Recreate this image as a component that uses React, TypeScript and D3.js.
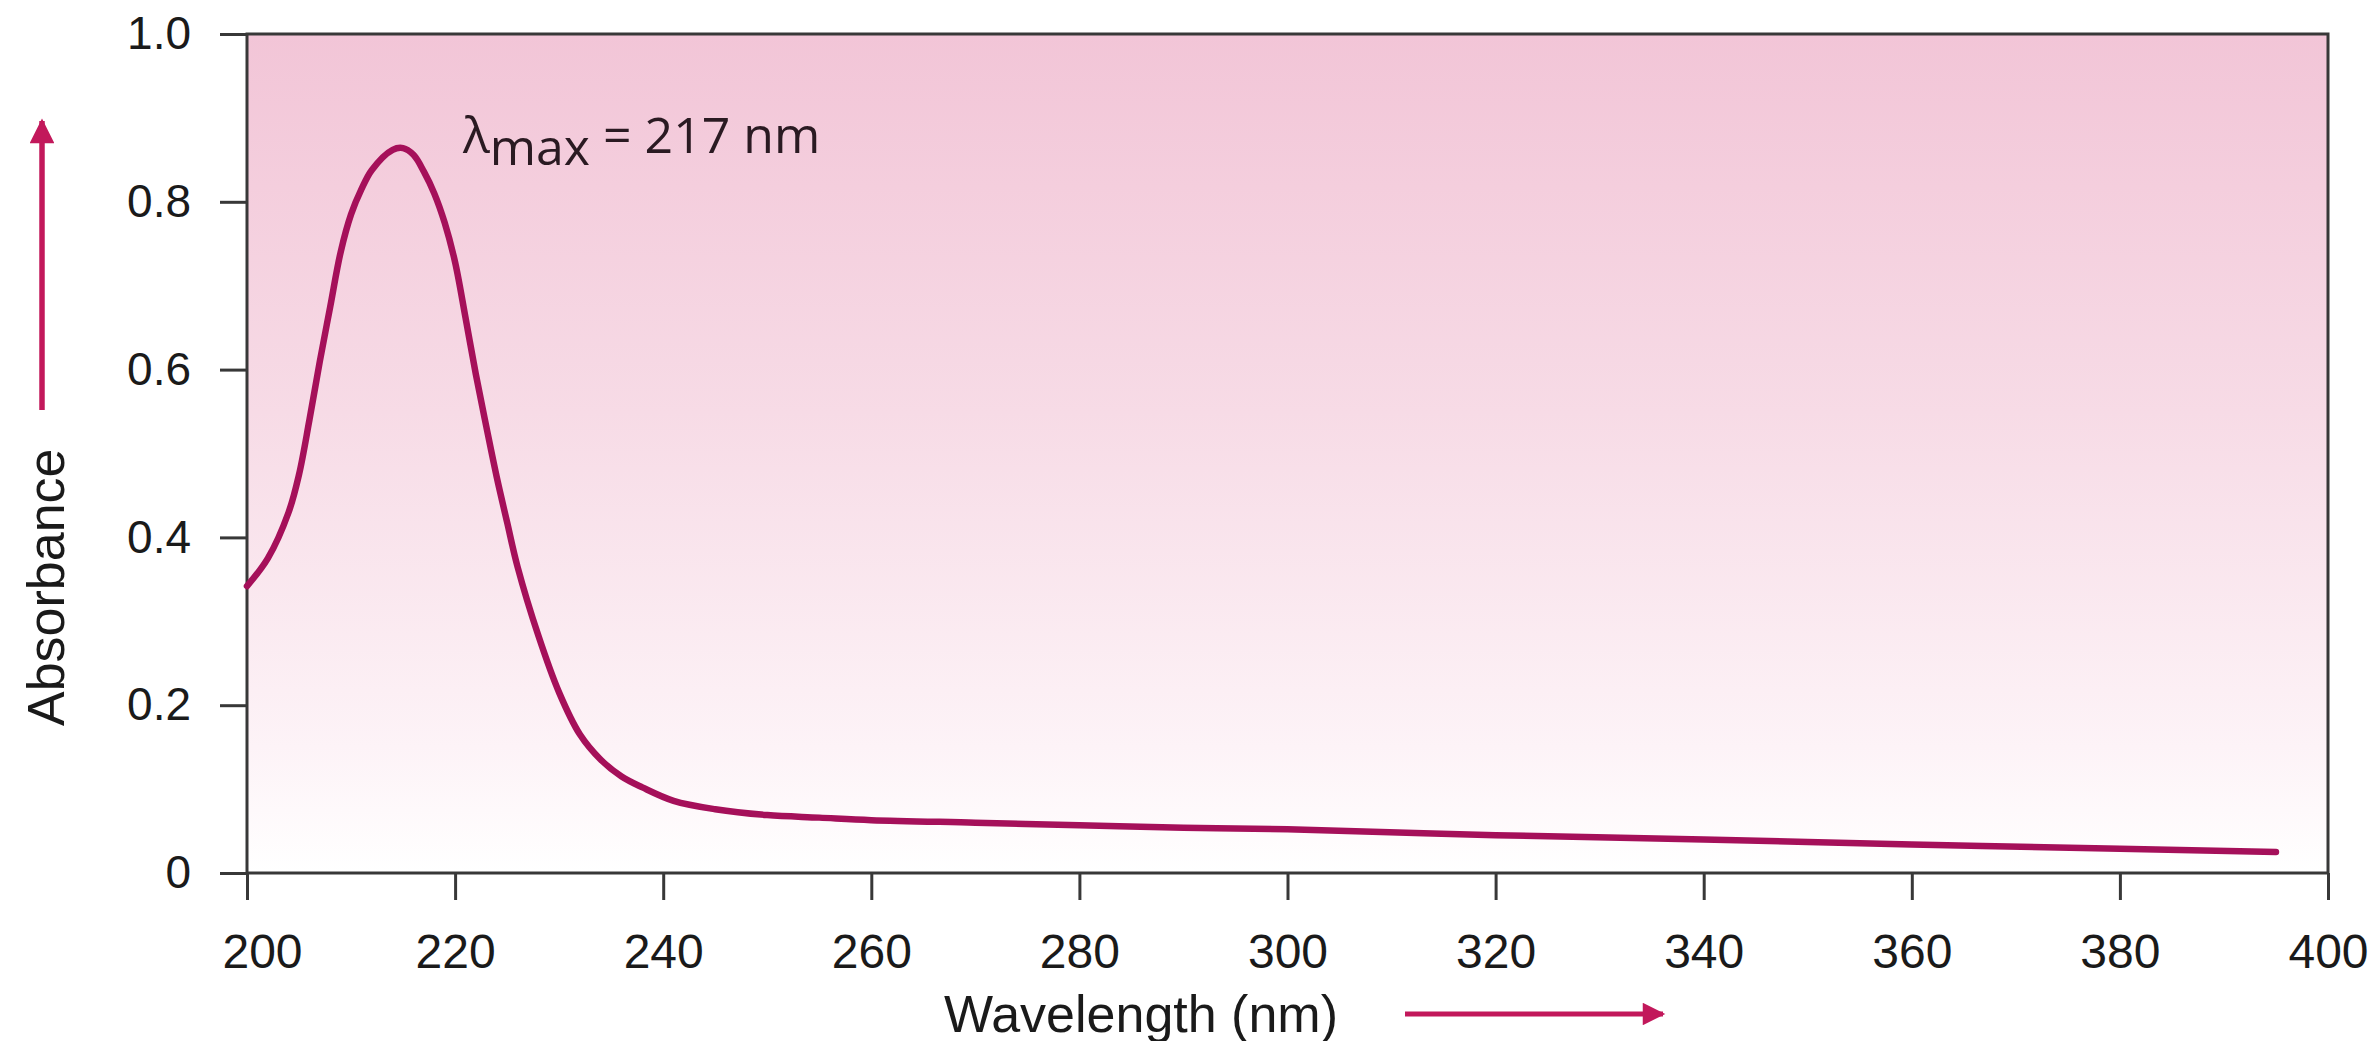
import React, { useEffect, useRef } from 'react';
import * as d3 from 'd3';

// spectrum
const wavelengths = [200, 202, 204, 205, 206, 207, 208, 209, 210, 211, 212, 214, 215, 216, 217, 218, 219, 220, 221, 222, 223, 224, 225, 226, 228, 230, 232, 234, 236, 238, 241, 245, 250, 255, 260, 270, 280, 290, 300, 320, 340, 360, 380, 395];
const absorbance = [0.342, 0.375, 0.43, 0.475, 0.54, 0.61, 0.675, 0.74, 0.785, 0.815, 0.838, 0.862, 0.864, 0.856, 0.836, 0.81, 0.775, 0.728, 0.662, 0.594, 0.532, 0.472, 0.418, 0.365, 0.283, 0.215, 0.165, 0.135, 0.115, 0.102, 0.086, 0.076, 0.069, 0.066, 0.063, 0.06, 0.057, 0.054, 0.052, 0.045, 0.04, 0.034, 0.029, 0.025];

const xTicks = [200, 220, 240, 260, 280, 300, 320, 340, 360, 380, 400];
const yTicks = [0, 0.2, 0.4, 0.6, 0.8, 1.0];

const lambdaMax = 217;

const App = () => {
  const svgRef = useRef<SVGSVGElement>(null);

  useEffect(() => {
    const width = 2380;
    const height = 1041;
    const left = 247, right = 2328, top = 34, bottom = 873;
    const magenta = '#c2185b';
    const curveColor = '#a5105a';
    const axisColor = '#383838';
    const sans = '"Liberation Sans", Arial, sans-serif';

    const svg = d3.select(svgRef.current);
    svg.selectAll('*').remove();
    svg.attr('width', width).attr('height', height);

    const x = d3.scaleLinear().domain([200, 400]).range([left, right]);
    const y = d3.scaleLinear().domain([0, 1]).range([bottom, top]);

    // fond dégradé rose -> blanc
    const defs = svg.append('defs');
    const grad = defs.append('linearGradient')
      .attr('id', 'bg')
      .attr('x1', 0).attr('y1', 0).attr('x2', 0).attr('y2', 1);
    grad.append('stop').attr('offset', '0%').attr('stop-color', '#f2c5d7');
    grad.append('stop').attr('offset', '45%').attr('stop-color', '#f7dbe6');
    grad.append('stop').attr('offset', '85%').attr('stop-color', '#fdf3f7');
    grad.append('stop').attr('offset', '100%').attr('stop-color', '#ffffff');

    const marker = defs.append('marker')
      .attr('id', 'head')
      .attr('viewBox', '0 0 10 10')
      .attr('refX', 9).attr('refY', 5)
      .attr('markerWidth', 6).attr('markerHeight', 4.5)
      .attr('markerUnits', 'strokeWidth')
      .attr('orient', 'auto');
    marker.append('path').attr('d', 'M0,0 L10,5 L0,10 Z').attr('fill', magenta);

    svg.append('rect')
      .attr('x', left).attr('y', top)
      .attr('width', right - left).attr('height', bottom - top)
      .attr('fill', 'url(#bg)');

    // axes
    const xAxis = d3.axisBottom(x)
      .tickValues(xTicks)
      .tickSizeInner(27)
      .tickSizeOuter(0)
      .tickPadding(34)
      .tickFormat(d3.format('d'));

    const yAxis = d3.axisLeft(y)
      .tickValues(yTicks)
      .tickSizeInner(27)
      .tickSizeOuter(0)
      .tickPadding(29)
      .tickFormat(d => (d === 0 ? '0' : d3.format('.1f')(d)));

    const gx = svg.append('g')
      .attr('transform', `translate(0, ${bottom})`)
      .call(xAxis);
    const gy = svg.append('g')
      .attr('transform', `translate(${left}, 0)`)
      .call(yAxis);

    [gx, gy].forEach(g => {
      g.select('.domain').remove();
      g.selectAll('.tick line').attr('stroke', axisColor).attr('stroke-width', 3);
      g.selectAll('.tick text')
        .attr('fill', '#1a1a1a')
        .style('font-family', sans);
    });
    gx.selectAll('.tick text').style('font-size', '48px');
    gy.selectAll('.tick text').style('font-size', '46px');
    // le "200" est décalé à droite dans l'original
    gx.selectAll('.tick text').filter(d => d === 200).attr('dx', 15);

    // cadre
    svg.append('rect')
      .attr('x', left).attr('y', top)
      .attr('width', right - left).attr('height', bottom - top)
      .attr('fill', 'none')
      .attr('stroke', axisColor)
      .attr('stroke-width', 3);

    // courbe
    const data = wavelengths.map((w, i) => ({ w, a: absorbance[i] }));
    const line = d3.line<{ w: number; a: number }>()
      .x(d => x(d.w))
      .y(d => y(d.a))
      .curve(d3.curveCatmullRom.alpha(0.5));

    svg.append('path')
      .datum(data)
      .attr('fill', 'none')
      .attr('stroke', curveColor)
      .attr('stroke-width', 6.5)
      .attr('stroke-linejoin', 'round')
      .attr('stroke-linecap', 'round')
      .attr('d', line);

    // annotation λmax
    const label = svg.append('text')
      .attr('x', 463)
      .attr('y', 153)
      .attr('fill', '#2a1a22')
      .style('font-family', '"Open Sans", sans-serif')
      .style('font-size', '50px');
    label.append('tspan').text('λ');
    label.append('tspan').attr('dy', 12).text('max');
    label.append('tspan').attr('dy', -12).text(` = ${lambdaMax} nm`);

    // titres des axes
    svg.append('text')
      .attr('x', 944)
      .attr('y', 1032)
      .attr('fill', '#1a1a1a')
      .style('font-family', sans)
      .style('font-size', '52px')
      .text('Wavelength (nm)');

    svg.append('line')
      .attr('x1', 1405).attr('y1', 1014)
      .attr('x2', 1663).attr('y2', 1014)
      .attr('stroke', magenta)
      .attr('stroke-width', 5)
      .attr('marker-end', 'url(#head)');

    svg.append('text')
      .attr('transform', 'translate(64, 726) rotate(-90)')
      .attr('fill', '#1a1a1a')
      .style('font-family', sans)
      .style('font-size', '52px')
      .text('Absorbance');

    svg.append('line')
      .attr('x1', 42).attr('y1', 410)
      .attr('x2', 42).attr('y2', 121)
      .attr('stroke', magenta)
      .attr('stroke-width', 5.5)
      .attr('marker-end', 'url(#head)');
  }, []);

  return (
    <svg ref={svgRef} style={{ position: 'absolute', left: 0, top: 0 }}></svg>
  );
};

export default App;
